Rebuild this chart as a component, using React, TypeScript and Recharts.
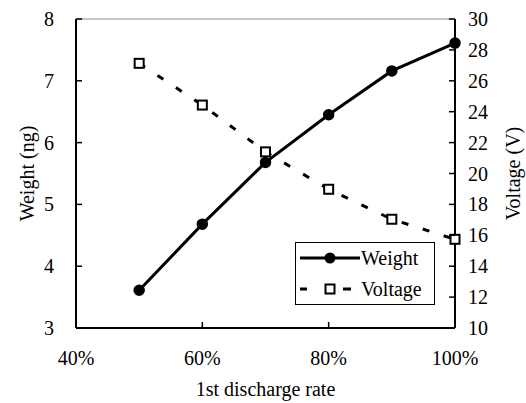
import React from 'react';
import { LineChart, Line, XAxis, YAxis, ReferenceLine, Legend } from 'recharts';

// 1st discharge rate (%) for each measurement
const rates = [50, 60, 70, 80, 90, 100];
// Deposited weight (ng)
const weightNg = [3.61, 4.68, 5.68, 6.45, 7.16, 7.61];
// Applied voltage (V)
const voltageV = [27.13, 24.43, 21.4, 18.98, 17.04, 15.74];

const rateTicks = [40, 60, 80, 100];
const weightTicks = [3, 4, 5, 6, 7, 8];
const voltageTicks = [10, 12, 14, 16, 18, 20, 22, 24, 26, 28, 30];

const WEIGHT = 'Weight';
const VOLTAGE = 'Voltage';

const data = rates.map((r, i) => ({ rate: r, [WEIGHT]: weightNg[i], [VOLTAGE]: voltageV[i] }));

const FONT = "'Liberation Serif', 'Times New Roman', 'DejaVu Serif', serif";
const TICK_FONT = 20;
const TITLE_FONT = 20;
const INK = '#000';
const txt = { fontFamily: FONT };

const LeftTick = (props: any) => {
  const { x, y, payload } = props;
  return (
    <g>
      <line x1={x} x2={x + 6} y1={y} y2={y} stroke={INK} strokeWidth={1.5} />
      <text x={x - 22} y={y} dy="0.35em" textAnchor="end" fontSize={TICK_FONT} style={txt} fill={INK}>
        {payload.value}
      </text>
    </g>
  );
};

const RightTick = (props: any) => {
  const { x, y, payload } = props;
  return (
    <g>
      <line x1={x - 6} x2={x} y1={y} y2={y} stroke={INK} strokeWidth={1.5} />
      <text x={x + 13} y={y} dy="0.35em" textAnchor="start" fontSize={TICK_FONT} style={txt} fill={INK}>
        {payload.value}
      </text>
    </g>
  );
};

const BottomTick = (props: any) => {
  const { x, y, payload } = props;
  return (
    <g>
      <line x1={x} x2={x} y1={y - 6} y2={y} stroke={INK} strokeWidth={1.5} />
      <text x={x} y={y + 37} textAnchor="middle" fontSize={TICK_FONT} style={txt} fill={INK}>
        {`${payload.value}%`}
      </text>
    </g>
  );
};

const SquareDot = (props: any) => {
  const { cx, cy, index } = props;
  if (cx == null || cy == null) return <g key={index} />;
  return (
    <rect
      key={index}
      x={cx - 4.5}
      y={cy - 4.5}
      width={9}
      height={9}
      fill="#fff"
      stroke={INK}
      strokeWidth={2}
      strokeDasharray="none"
    />
  );
};

const LegendBox = () => (
  <svg width={140} height={63} style={{ display: 'block' }}>
    <rect x={0.5} y={0.5} width={139} height={62} fill="#fff" stroke={INK} strokeWidth={1} />
    {/* Weight sample: solid line with filled circle */}
    <line x1={5} x2={65} y1={16} y2={16} stroke={INK} strokeWidth={3} />
    <circle cx={35} cy={16} r={5.5} fill={INK} />
    <text x={66} y={16} dy="0.35em" fontSize={TICK_FONT} style={txt} fill={INK}>
      {WEIGHT}
    </text>
    {/* Voltage sample: dashed line with open square */}
    <line x1={5} x2={12} y1={47} y2={47} stroke={INK} strokeWidth={3} />
    <line x1={48} x2={56} y1={47} y2={47} stroke={INK} strokeWidth={3} />
    <rect x={30.5} y={42.5} width={9} height={9} fill="#fff" stroke={INK} strokeWidth={2} />
    <text x={66} y={47} dy="0.35em" fontSize={TICK_FONT} style={txt} fill={INK}>
      {VOLTAGE}
    </text>
  </svg>
);

export default function App() {
  return (
    <div style={{ position: 'absolute', left: 0, top: 0, width: 526, height: 403, background: '#fff', fontFamily: FONT }}>
      <LineChart width={526} height={403} data={data} margin={{ top: 19, right: 11, bottom: 15, left: 16 }} style={txt}>
        <XAxis
          dataKey="rate"
          type="number"
          domain={[40, 100]}
          ticks={rateTicks}
          interval={0}
          height={60}
          tickSize={0}
          tickMargin={0}
          tickLine={false}
          axisLine={{ stroke: INK, strokeWidth: 2 }}
          tick={<BottomTick />}
          label={(p: any) => {
            const vb = p.viewBox || {};
            return (
              <text x={vb.x + vb.width / 2} y={vb.y + 68} textAnchor="middle" fontSize={TITLE_FONT} style={txt} fill={INK}>
                1st discharge rate
              </text>
            );
          }}
        />
        <YAxis
          yAxisId="left"
          orientation="left"
          type="number"
          domain={[3, 8]}
          ticks={weightTicks}
          interval={0}
          width={60}
          tickSize={0}
          tickMargin={0}
          tickLine={false}
          axisLine={{ stroke: INK, strokeWidth: 2 }}
          tick={<LeftTick />}
          label={(p: any) => {
            const vb = p.viewBox || {};
            const cx = vb.x + 11;
            const cy = vb.y + vb.height / 2;
            return (
              <text x={cx} y={cy} transform={`rotate(-90 ${cx} ${cy})`} textAnchor="middle" dy="0.35em" fontSize={TITLE_FONT} style={txt} fill={INK}>
                Weight (ng)
              </text>
            );
          }}
        />
        <YAxis
          yAxisId="right"
          orientation="right"
          type="number"
          domain={[10, 30]}
          ticks={voltageTicks}
          interval={0}
          width={60}
          tickSize={0}
          tickMargin={0}
          tickLine={false}
          axisLine={{ stroke: INK, strokeWidth: 2 }}
          tick={<RightTick />}
          label={(p: any) => {
            const vb = p.viewBox || {};
            const cx = vb.x + 58;
            const cy = vb.y + vb.height / 2;
            return (
              <text x={cx} y={cy} transform={`rotate(-90 ${cx} ${cy})`} textAnchor="middle" dy="0.35em" fontSize={TITLE_FONT} style={txt} fill={INK}>
                Voltage (V)
              </text>
            );
          }}
        />
        <ReferenceLine yAxisId="left" y={8} stroke="#8c8c8c" strokeWidth={1} />
        <Line
          yAxisId="left"
          dataKey={WEIGHT}
          name={WEIGHT}
          stroke={INK}
          strokeWidth={3}
          dot={{ r: 5, fill: INK, stroke: INK, strokeWidth: 1.5 }}
          activeDot={false}
          isAnimationActive={false}
        />
        <Line
          yAxisId="right"
          dataKey={VOLTAGE}
          name={VOLTAGE}
          stroke={INK}
          strokeWidth={3}
          strokeDasharray="7 15"
          dot={<SquareDot />}
          activeDot={false}
          isAnimationActive={false}
        />
        <Legend
          layout="vertical"
          align="center"
          verticalAlign="middle"
          content={<LegendBox />}
          wrapperStyle={{ position: 'absolute', left: 295, top: 242, width: 140, height: 63 }}
        />
      </LineChart>
    </div>
  );
}
